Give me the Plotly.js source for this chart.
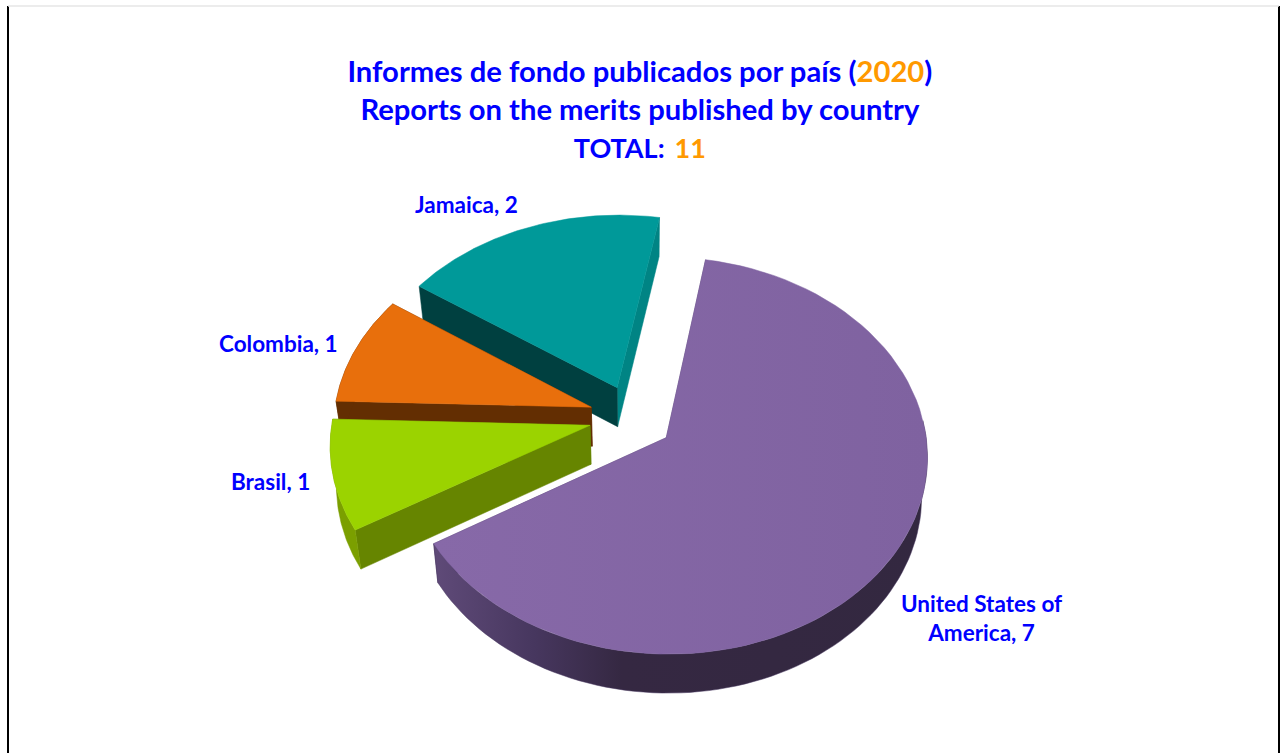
<!DOCTYPE html>
<html>
<head>
<meta charset="utf-8">
<script src="https://cdn.plot.ly/plotly-3.0.1.min.js"></script>
<style>html,body{margin:0;padding:0;background:#fff;overflow:hidden}#chart{width:1281px;height:753px}</style>
</head>
<body>
<div id="chart"></div>
<script>
// ---- data ----
const countries = ['United States of America', 'Brasil', 'Colombia', 'Jamaica'];
const reports   = [7, 1, 1, 2];

// ---- style / projection settings ----
const topColors  = ['#8568a6', '#9bd300', '#e86f0c', '#009999'];
const cutColors  = ['#5f4a78', '#668500', '#632e02', '#004040'];
const endColors  = ['#5f4a78', '#668500', '#632e02', '#008484'];
const arcColors  = ['#352842', '#7b9f00', '#632e02', '#006060'];
const explode    = [0.129, 0.194, 0.205, 0.201];
const explodeDir = [128.4, 265, 292, 333.4];
const labelPos   = [[981, 618], [270, 481], [278, 343], [466, 204]];
const FIRST_ANGLE = 10, CX = 640, CY = 422, RX = 258, RY = 194, K = 0.09, DEPTH = 39;
const FONT = 'Lato, "Open Sans", sans-serif';

const total = reports.reduce((a, b) => a + b, 0);

function project(px, py) {
  const t = 1 / (1 + K * py);
  return [CX + RX * px * t, CY - RY * py * t];
}
function down(p) { return [p[0] + (640 - p[0]) * 0.02, p[1] + DEPTH]; }
function rad(d) { return d * Math.PI / 180; }

const traces = [];
function addPoly(pts, color, gradient) {
  const xs = pts.map(p => p[0]).concat([pts[0][0]]);
  const ys = pts.map(p => p[1]).concat([pts[0][1]]);
  const tr = {type: 'scatter', mode: 'lines', x: xs, y: ys, fill: 'toself', fillcolor: color,
    line: {width: 0.5, color: color}, hoverinfo: 'skip', showlegend: false};
  if (gradient) { tr.fillgradient = gradient; delete tr.fillcolor; tr.line.color = gradient.colorscale[1][1]; }
  traces.push(tr);
}

// slice geometry from the values
let acc = FIRST_ANGLE;
const slices = reports.map((v, i) => {
  const a0 = acc, a1 = acc + v / total * 360; acc = a1;
  const dir = rad(explodeDir[i]);
  return {i, a0, a1, ox: explode[i] * Math.sin(dir), oy: explode[i] * Math.cos(dir)};
});
function rim(s, a0, a1) {
  const pts = [];
  for (let a = a0; a <= a1 + 1e-6; a += (a1 - a0) / 80)
    pts.push(project(s.ox + Math.sin(rad(a)), s.oy + Math.cos(rad(a))));
  return pts;
}

// painter's order: back slice to front slice
[3, 2, 1, 0].forEach(i => {
  const s = slices[i];
  const apex = project(s.ox, s.oy);
  const arc = rim(s, s.a0, s.a1);
  const first = arc[0], last = arc[arc.length - 1];
  // cut faces
  addPoly([apex, last, down(last), down(apex)], endColors[i]);
  addPoly([apex, first, down(first), down(apex)], cutColors[i]);
  // outer wall
  const wa0 = Math.max(s.a0, 85);
  if (s.a1 > 90 && s.a0 < 272) {
    const w = rim(s, wa0, s.a1);
    const poly = w.concat(w.slice().reverse().map(down));
    const grad = i === 0
      ? {type: 'horizontal', start: 435, stop: 927,
         colorscale: [[0, '#5f4a78'], [0.2, '#47375f'], [0.38, '#352842'], [1, '#332840']]}
      : null;
    addPoly(poly, arcColors[i], grad);
  }
  // top face
  const top = [apex].concat(arc);
  const grad = i === 0
    ? {type: 'horizontal', start: 435, stop: 927,
       colorscale: [[0, '#8769a8'], [1, '#7f62a0']]}
    : null;
  addPoly(top, topColors[i], grad);
});

const annotations = countries.map((c, i) => ({
  x: labelPos[i][0], y: labelPos[i][1], xref: 'x', yref: 'y', showarrow: false,
  text: c.replace('States of ', 'States of<br>') + ', ' + reports[i],
  font: {family: FONT, size: 22.5, color: '#0000ff', weight: 700},
  xanchor: 'center', yanchor: 'middle', align: 'center'
}));

const shapes = [
  {type: 'line', xref: 'x', yref: 'y', x0: 8, x1: 8, y0: 6, y1: 753, line: {color: '#000', width: 2}},
  {type: 'line', xref: 'x', yref: 'y', x0: 1279, x1: 1279, y0: 6, y1: 753, line: {color: '#000', width: 2}},
  {type: 'line', xref: 'x', yref: 'y', x0: 8, x1: 1279, y0: 6, y1: 6, line: {color: '#e6e6e6', width: 1.5}}
];

const layout = {
  width: 1281, height: 753,
  margin: {l: 0, r: 0, t: 0, b: 0},
  paper_bgcolor: '#fff', plot_bgcolor: '#fff',
  showlegend: false,
  title: {
    text: 'Informes de fondo publicados por país (<span style="color:#ff9900">2020</span>)<br>' +
          'Reports on the merits published by country<br>' +
          '<span style="font-size:27px">TOTAL:\u2009 <span style="color:#ff9900">' + total + '</span></span>',
    x: 0.4995, xanchor: 'center', xref: 'paper',
    y: 1 - 82 / 753, yanchor: 'top', yref: 'container',
    font: {family: FONT, size: 29.2, color: '#0000ff', weight: 700}
  },
  xaxis: {range: [0, 1281], visible: false, fixedrange: true},
  yaxis: {range: [753, 0], visible: false, fixedrange: true},
  annotations, shapes
};
Plotly.newPlot('chart', traces, layout, {displayModeBar: false, staticPlot: true});
</script>
</body>
</html>
